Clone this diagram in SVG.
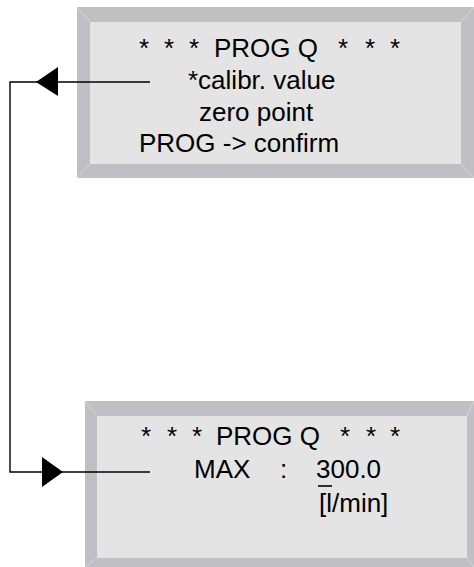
<svg xmlns="http://www.w3.org/2000/svg" width="474" height="567" viewBox="0 0 474 567">
<style>
.frame{fill:#c0c0c4}
.panel{fill:#e4e4e4}
.bev{stroke:#d6d6d8;stroke-width:1;fill:none}
.t{font-family:"Liberation Sans",Arial,sans-serif;font-size:26px;fill:#000}
.wire{stroke:#000;stroke-width:1.4;fill:none}
.head{fill:#000}
</style>
<rect width="474" height="567" fill="#fff"/>
<g id="screen-calibr">
<rect class="frame" x="77" y="7" width="397" height="171"/>
<rect class="panel" x="90" y="22" width="371" height="142"/>
<path class="bev" d="M77 7L90 22M474 7L461 22M77 178L90 164M474 178L461 164"/>
<text class="t" y="57"><tspan x="139">*</tspan><tspan x="164">*</tspan><tspan x="189">*</tspan><tspan x="214">PROG Q</tspan><tspan x="338">*</tspan><tspan x="365">*</tspan><tspan x="390">*</tspan></text>
<text class="t" x="188" y="89">*calibr. value</text>
<text class="t" x="199" y="121">zero point</text>
<text class="t" x="139" y="152">PROG -&gt; confirm</text>
</g>
<g id="screen-max">
<rect class="frame" x="85" y="401" width="389" height="166"/>
<rect class="panel" x="97" y="416" width="370" height="142"/>
<path class="bev" d="M85 401L97 416M474 401L467 416M474 567L467 558M85 567L97 558"/>
<text class="t" y="445"><tspan x="141">*</tspan><tspan x="167">*</tspan><tspan x="192">*</tspan><tspan x="216">PROG Q</tspan><tspan x="340">*</tspan><tspan x="366">*</tspan><tspan x="390">*</tspan></text>
<text class="t" y="478"><tspan x="194">MAX</tspan><tspan x="280">:</tspan><tspan x="316">300.0</tspan></text>
<line x1="318" y1="486" x2="332" y2="486" stroke="#000" stroke-width="1.6"/>
<text class="t" x="319" y="512">[l/min]</text>
</g>
<g id="connectors">
<path class="wire" d="M150 82H10V472H150"/>
<polygon class="head" points="36,82 58,67 58,96"/>
<polygon class="head" points="63,472 42,457 42,487"/>
</g>
</svg>
